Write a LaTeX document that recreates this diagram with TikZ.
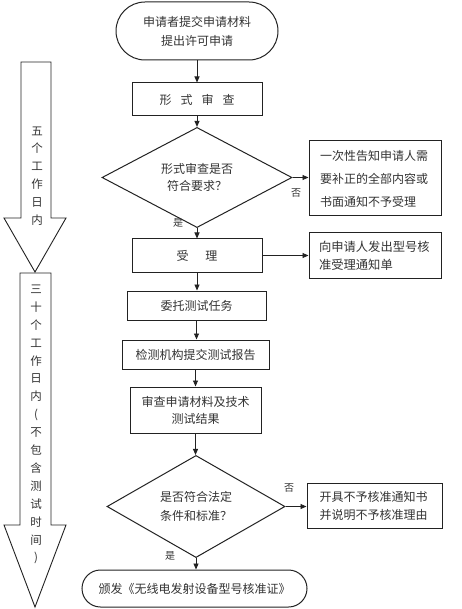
\documentclass[tikz,border=0pt]{standalone}
\usepackage{fontspec}
\newfontfamily\cjk{Noto Sans CJK SC}
\usetikzlibrary{arrows.meta,shapes.geometric}
\definecolor{ink}{HTML}{222222}
\definecolor{txt}{HTML}{333333}
\begin{document}
\begin{tikzpicture}[x=1pt,y=-1pt,
  every node/.style={font=\cjk\fontsize{12}{14}\selectfont, text=txt, inner sep=0pt},
  box/.style={draw=ink, line width=1pt, rectangle, minimum width=#1},
  term/.style={draw=ink, line width=1pt, rectangle},
  dia/.style={draw=ink, line width=1pt, diamond, align=center},
  conn/.style={draw=ink, line width=0.9pt, -{Triangle[length=6pt,width=5pt]}},
  lbl/.style={font=\cjk\fontsize{10}{12}\selectfont},
  bigarrow/.style={draw=ink, line width=0.9pt, fill=white},
  vtext/.style={align=center, font=\cjk\fontsize{11.5}{17.9}\selectfont}
]
\useasboundingbox (0,0) rectangle (462,609);
\fill[white] (0,0) rectangle (462,609);

% left big arrows
\draw[bigarrow] (21,62) -- (51,62) -- (51,218) -- (66,218) -- (35,272) -- (4,218) -- (21,218) -- cycle;
\draw[bigarrow] (20,273) -- (51,273) -- (51,525) -- (66,525) -- (35,607) -- (4,525) -- (20,525) -- cycle;
\node[vtext] (t5) at (37,176) {五\\个\\工\\作\\日\\内};
\node[vtext] (t30) at (36,424.5) {三\\十\\个\\工\\作\\日\\内\\(\\不\\包\\含\\测\\试\\时\\间\\)};

% main flow
\node[term, minimum width=162, minimum height=58, rounded corners=29pt, align=center,
      font=\cjk\fontsize{12}{19}\selectfont] (start) at (197,31) {申请者提交申请材料\\提出许可申请};
\node[box=130, minimum height=33] (review) at (197,99.5) {形\hspace{0.75em}式\hspace{0.75em}审\hspace{0.75em}查};
\node[dia, minimum width=190, minimum height=81, font=\cjk\fontsize{12}{17}\selectfont] (d1) at (197,177.5) {形式审查是否\\符合要求？\hspace{1em}};
\node[box=132, minimum height=75, align=left, text width=110, font=\cjk\fontsize{12}{23}\selectfont] (r1) at (375,178.5)
  {一次性告知申请人需\\要补正的全部内容或\\书面通知不予受理};
\node[box=130, minimum height=33] (accept) at (197,255.5) {受\hspace{1.4em}理};
\node[box=132, minimum height=45, align=left, text width=112, font=\cjk\fontsize{12.3}{18}\selectfont] (r2) at (375,255.5)
  {向申请人发出型号核\\准受理通知单};
\node[box=139, minimum height=29] (entrust) at (196.5,305.5) {委托测试任务};
\node[box=147, minimum height=29] (report) at (195.5,354.5) {检测机构提交测试报告};
\node[box=131, minimum height=46, align=center, font=\cjk\fontsize{12}{17}\selectfont] (examine) at (195.5,410)
  {审查申请材料及技术\\测试结果};
\node[dia, minimum width=178, minimum height=93, font=\cjk\fontsize{12}{19}\selectfont] (d2) at (196,506.5) {是否符合法定\\条件和标准？};
\node[box=135, minimum height=45, align=left, text width=110, font=\cjk\fontsize{12}{18}\selectfont] (r3) at (374.5,505.5)
  {开具不予核准通知书\\并说明不予核准理由};
\node[term, minimum width=225, minimum height=37, rounded corners=18.5pt] (end) at (194.5,588.5) {颁发《无线电发射设备型号核准证》};

% labels
\node[lbl] (no1) at (296,193) {否};
\node[lbl] (yes1) at (178,223) {是};
\node[lbl] (no2) at (289,488) {否};
\node[lbl] (yes2) at (170,556) {是};

% connectors
\draw[conn] (start.south) -- (review.north);
\draw[conn] (review.south) -- (d1.north);
\draw[conn] (d1.east) -- (r1.west |- d1.east);
\draw[conn] (d1.south) -- (accept.north);
\draw[conn] (accept.east) -- (r2.west |- accept.east);
\draw[conn] (accept.south) -- (accept.south |- entrust.north);
\draw[conn] (entrust.south) -- (entrust.south |- report.north);
\draw[conn] (report.south) -- (report.south |- examine.north);
\draw[conn] (examine.south) -- (examine.south |- d2.north);
\draw[conn] (d2.east) -- (r3.west |- d2.east);
\draw[conn] (d2.south) -- (d2.south |- end.north);
\end{tikzpicture}
\end{document}
